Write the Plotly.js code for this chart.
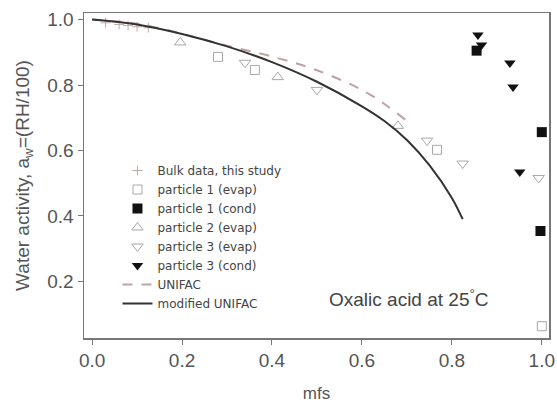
<!DOCTYPE html>
<html>
<head>
<meta charset="utf-8">
<script src="https://cdn.plot.ly/plotly-3.0.1.min.js"></script>
<style>html,body{margin:0;padding:0;background:#fff;}#chart{width:557px;height:403px;}</style>
</head>
<body>
<div id="chart"></div>
<script>
// Bulk data, this study
const bulkX = [0.03, 0.06, 0.08, 0.10, 0.125];
const bulkY = [0.99, 0.985, 0.982, 0.978, 0.975];
// particle 1 (evap)
const p1evapX = [0.28, 0.362, 0.767, 1.0];
const p1evapY = [0.886, 0.846, 0.602, 0.063];
// particle 1 (cond)
const p1condX = [0.855, 1.0, 0.997];
const p1condY = [0.905, 0.656, 0.354];
// particle 2 (evap)
const p2evapX = [0.196, 0.413, 0.68];
const p2evapY = [0.93, 0.824, 0.675];
// particle 3 (evap)
const p3evapX = [0.34, 0.50, 0.745, 0.824, 0.993];
const p3evapY = [0.868, 0.785, 0.63, 0.56, 0.516];
// particle 3 (cond)
const p3condX = [0.858, 0.866, 0.929, 0.936, 0.951];
const p3condY = [0.953, 0.922, 0.867, 0.794, 0.534];
// UNIFAC
const unifacX = [0, 0.1, 0.2, 0.25, 0.3, 0.4, 0.5, 0.6, 0.65, 0.7];
const unifacY = [1.0, 0.987, 0.957, 0.938, 0.92, 0.887, 0.845, 0.785, 0.742, 0.69];
// modified UNIFAC
const modX = [0, 0.1, 0.2, 0.3, 0.4, 0.5, 0.6, 0.65, 0.7, 0.75, 0.8, 0.824];
const modY = [1.0, 0.985, 0.956, 0.918, 0.87, 0.81, 0.735, 0.69, 0.632, 0.555, 0.455, 0.39];

const xTicks = [0, 0.2, 0.4, 0.6, 0.8, 1.0];
const xTickText = ['0.0', '0.2', '0.4', '0.6', '0.8', '1.0'];
const yTicks = [0.2, 0.4, 0.6, 0.8, 1.0];
const yTickText = ['0.2', '0.4', '0.6', '0.8', '1.0'];

const grayOpen = '#a8a8a8';
const traces = [
  {x: bulkX, y: bulkY, name: 'Bulk data, this study', mode: 'markers', type: 'scatter',
   marker: {symbol: 'cross-thin-open', size: 7, color: '#c4a8a8', line: {color: '#c4a8a8', width: 1}}},
  {x: p1evapX, y: p1evapY, name: 'particle 1 (evap)', mode: 'markers', type: 'scatter',
   marker: {symbol: 'square-open', size: 9, color: grayOpen, line: {width: 1}}},
  {x: p1condX, y: p1condY, name: 'particle 1 (cond)', mode: 'markers', type: 'scatter',
   marker: {symbol: 'square', size: 10, color: '#111'}},
  {x: p2evapX, y: p2evapY, name: 'particle 2 (evap)', mode: 'markers', type: 'scatter',
   marker: {symbol: 'triangle-up-open', size: 10, color: grayOpen, line: {width: 1}}},
  {x: p3evapX, y: p3evapY, name: 'particle 3 (evap)', mode: 'markers', type: 'scatter',
   marker: {symbol: 'triangle-down-open', size: 10, color: grayOpen, line: {width: 1}}},
  {x: p3condX, y: p3condY, name: 'particle 3 (cond)', mode: 'markers', type: 'scatter',
   marker: {symbol: 'triangle-down', size: 10, color: '#111'}},
  {x: unifacX, y: unifacY, name: 'UNIFAC', mode: 'lines', type: 'scatter', line: {shape: 'spline',
   color: '#bda3a3', width: 2, dash: '10px,9px'}},
  {x: modX, y: modY, name: 'modified UNIFAC', mode: 'lines', type: 'scatter', line: {shape: 'spline',
   color: '#333', width: 2}}
];

const layout = {
  width: 557, height: 403,
  margin: {l: 84, r: 8, t: 13, b: 65},
  paper_bgcolor: '#fff', plot_bgcolor: '#fff',
  font: {family: 'Liberation Sans, Arial, sans-serif', color: '#444'},
  showlegend: true,
  legend: {x: 0.072, y: 0.56, xanchor: 'left', yanchor: 'top', bgcolor: 'rgba(0,0,0,0)',
           font: {family: 'DejaVu Sans, sans-serif', size: 12, color: '#444'}, tracegroupgap: 0, itemwidth: 30},
  xaxis: {range: [-0.018, 1.016], tickvals: xTicks, ticktext: xTickText, ticks: 'outside', ticklen: 5,
          tickcolor: '#777', showline: true, linecolor: '#777', linewidth: 1.5, mirror: true,
          showgrid: false, zeroline: false, tickfont: {size: 19, color: '#555'},
          title: {text: 'mfs', font: {size: 17, color: '#555'}, standoff: 17}},
  yaxis: {range: [0.027, 1.02], tickvals: yTicks, ticktext: yTickText, ticks: 'outside', ticklen: 5,
          tickcolor: '#777', showline: true, linecolor: '#777', linewidth: 1.5, mirror: true,
          showgrid: false, zeroline: false, tickfont: {size: 19, color: '#555'},
          title: {text: 'Water activity, a<sub>w</sub>=(RH/100)', font: {size: 19, color: '#555'}, standoff: 12}},
  annotations: [{x: 0.705, y: 0.15, xref: 'x', yref: 'y', showarrow: false,
    text: 'Oxalic acid at 25<sup>°</sup>C', font: {size: 19, color: '#444'}}]
};

Plotly.newPlot('chart', traces, layout, {displayModeBar: false, staticPlot: true});
</script>
</body>
</html>
